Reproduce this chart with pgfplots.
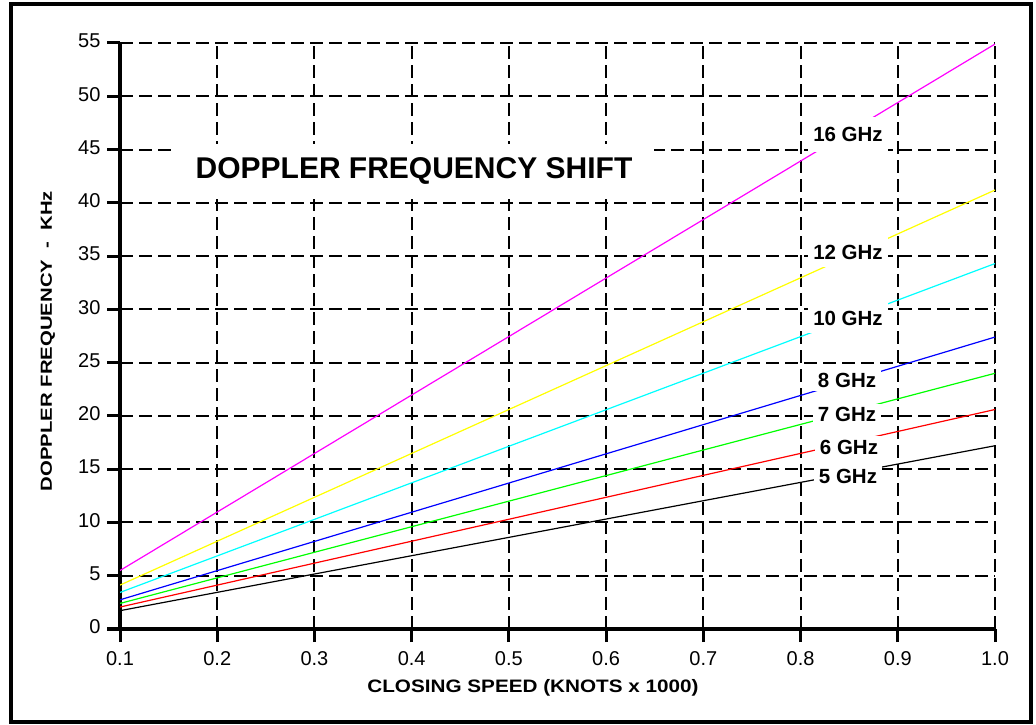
\documentclass[border=0pt]{standalone}
\usepackage{pgfplots}
\pgfplotsset{compat=1.18}
\usepackage{graphicx}
\usepackage{fontspec}
\setmainfont{Liberation Sans}

\definecolor{dmag}{RGB}{255,0,255}
\definecolor{dyel}{RGB}{255,255,0}
\definecolor{dcyan}{RGB}{0,255,255}
\definecolor{dblue}{RGB}{0,0,255}
\definecolor{dgreen}{RGB}{0,255,0}
\definecolor{dred}{RGB}{255,0,0}

\tikzset{glab/.style={fill=white, inner xsep=5bp,
  font=\fontsize{20.5bp}{24bp}\selectfont\bfseries}}

\begin{document}
\begin{tikzpicture}
  \useasboundingbox (0,0) rectangle (1036bp,725bp);
  \draw[line width=3.5bp] (11bp,3bp) rectangle (1031bp,721bp);
  \begin{axis}[
    at={(120bp,96bp)}, anchor=south west,
    scale only axis,
    width=875bp, height=586bp,
    xmin=0.1, xmax=1.0, ymin=0, ymax=55,
    xtick={0.1,0.2,0.3,0.4,0.5,0.6,0.7,0.8,0.9,1.0},
    ytick={0,5,10,15,20,25,30,35,40,45,50,55},
    axis lines*=left,
    axis line style={line width=3.4bp, black},
    tick align=outside,
    major tick length=13bp,
    tick style={line width=3bp, black},
    grid=major,
    major grid style={line width=2bp, black, dash pattern=on 13bp off 6bp},
    /pgf/number format/assume math mode=true,
    xticklabel style={font=\fontsize{20bp}{23bp}\selectfont, yshift=-6bp,
      /pgf/number format/.cd, fixed, fixed zerofill, precision=1},
    yticklabel style={font=\fontsize{20bp}{23bp}\selectfont, xshift=-3bp, yshift=2bp,
      /pgf/number format/.cd, fixed},
    xlabel={\scalebox{1.15}[1]{\bfseries CLOSING SPEED (KNOTS x 1000)}},
    ylabel={\scalebox{1.27}[1]{\bfseries DOPPLER FREQUENCY\ \ -\ \ KHz}},
    xlabel style={font=\fontsize{18bp}{21bp}\selectfont,
      at={(axis description cs:0.472,-0.1007)}, anchor=center},
    ylabel style={font=\fontsize{16bp}{19bp}\selectfont,
      at={(axis description cs:-0.0823,0.4915)}, anchor=center},
    every axis plot/.append style={line width=1.2bp},
  ]
  % 16, 12, 10, 8, 7, 6, 5 GHz
  \addplot[dmag]   coordinates {(0.1,5.49) (1.0,54.9)};
  \addplot[dyel]   coordinates {(0.1,4.12) (1.0,41.2)};
  \addplot[dcyan]  coordinates {(0.1,3.43) (1.0,34.3)};
  \addplot[dblue]  coordinates {(0.1,2.74) (1.0,27.4)};
  \addplot[dgreen] coordinates {(0.1,2.40) (1.0,24.0)};
  \addplot[dred]   coordinates {(0.1,2.06) (1.0,20.6)};
  \addplot[black]  coordinates {(0.1,1.72) (1.0,17.2)};

  \node[fill=white, inner sep=0pt, minimum width=480bp, minimum height=55bp,
    font=\fontsize{30bp}{34bp}\selectfont\bfseries]
    at (axis cs:0.4024,42.98) {DOPPLER FREQUENCY SHIFT};

  \node[glab, inner ysep=10bp] at (axis cs:0.8488,46.41) {16 GHz};
  \node[glab, inner ysep=8bp]  at (axis cs:0.8488,35.38) {12 GHz};
  \node[glab, inner ysep=8bp]  at (axis cs:0.8488,29.19) {10 GHz};
  \node[glab, inner ysep=4bp]  at (axis cs:0.8478,23.37) {8 GHz};
  \node[glab, inner ysep=3bp]  at (axis cs:0.8478,20.13) {7 GHz};
  \node[glab, inner ysep=4bp]  at (axis cs:0.8498,17.08) {6 GHz};
  \node[glab, inner ysep=3bp]  at (axis cs:0.8488,14.31) {5 GHz};
  \end{axis}
\end{tikzpicture}
\end{document}
